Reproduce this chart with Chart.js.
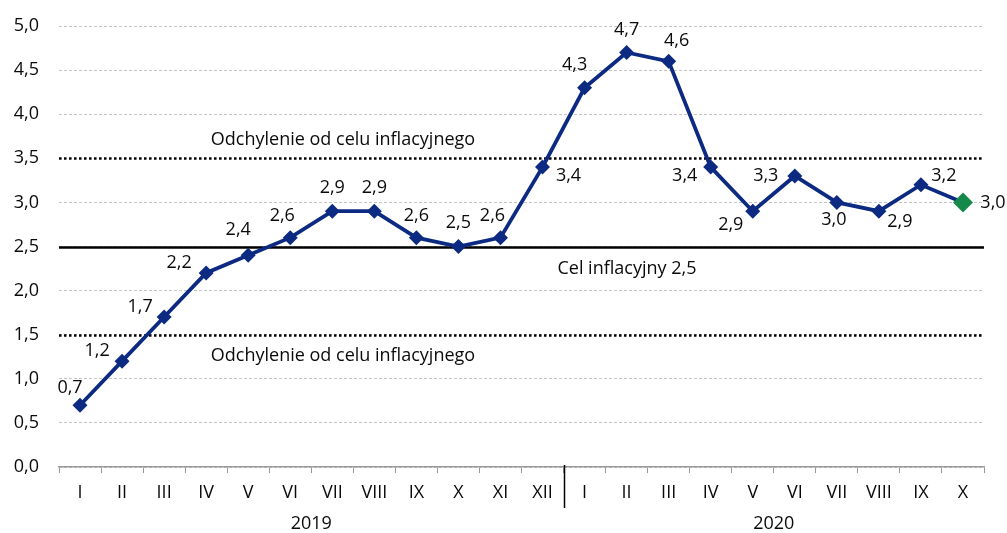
<!DOCTYPE html>
<html>
<head>
<meta charset="utf-8">
<script src="https://cdn.jsdelivr.net/npm/chart.js@4"></script>
<style>
  html, body { margin: 0; padding: 0; background: #fff; }
  #wrap { width: 1007px; height: 533px; }
</style>
</head>
<body>
<div id="wrap"><canvas id="chart"></canvas></div>
<script>
const months = ['I', 'II', 'III', 'IV', 'V', 'VI', 'VII', 'VIII', 'IX', 'X', 'XI', 'XII',
                'I', 'II', 'III', 'IV', 'V', 'VI', 'VII', 'VIII', 'IX', 'X'];
const inflation = [0.7, 1.2, 1.7, 2.2, 2.4, 2.6, 2.9, 2.9, 2.6, 2.5, 2.6, 3.4,
                   4.3, 4.7, 4.6, 3.4, 2.9, 3.3, 3.0, 2.9, 3.2, 3.0];
const years = ['2019', '2020'];
const yearFirstIdx = [0, 12];
const yearLastIdx = [11, 21];
const refValues = [3.5, 2.5, 1.5];
const refTexts = ['Odchylenie od celu inflacyjnego', 'Cel inflacyjny 2,5', 'Odchylenie od celu inflacyjnego'];

// label offsets from each point (style only)
const labelOffsets = [[-10, -17], [-25, -10], [-24, -10], [-27, -10], [-10, -25], [-8, -22],
  [0, -23], [0, -23], [0, -22], [0, -24], [-8, -22], [26, 9], [-10, -23], [0, -23], [8, -20],
  [-26, 9], [-22, 14], [-29, 0], [-3, 17], [21, 11], [23, -9], [30, 0]];

const FONT = 'Open Sans';
const NAVY = '#0c2a82';
const GREEN = '#16884a';
const fmt = v => v.toFixed(1).replace('.', ',');

Chart.defaults.font.family = FONT;
Chart.defaults.font.size = 18;
Chart.defaults.color = '#0a0a0a';

const refLinesPlugin = {
  id: 'refLines',
  beforeDatasetsDraw(chart) {
    const { ctx, chartArea, scales: { y } } = chart;
    ctx.save();
    refValues.forEach(v => {
      const py = Math.round(y.getPixelForValue(v)) + 0.5;
      ctx.beginPath();
      ctx.strokeStyle = '#000';
      ctx.lineWidth = 2.5;
      ctx.setLineDash(v === 2.5 ? [] : [2.5, 2.5]);
      ctx.moveTo(chartArea.left, py);
      ctx.lineTo(chartArea.right, py);
      ctx.stroke();
    });
    ctx.setLineDash([]);
    ctx.fillStyle = '#0a0a0a';
    ctx.font = '18px "Open Sans"';
    ctx.textAlign = 'center';
    ctx.textBaseline = 'middle';
    const w = chartArea.right - chartArea.left;
    ctx.fillText(refTexts[0], chartArea.left + w * 0.307, y.getPixelForValue(refValues[0]) - 18);
    ctx.fillText(refTexts[1], chartArea.left + w * 0.614, y.getPixelForValue(refValues[1]) + 22);
    ctx.fillText(refTexts[2], chartArea.left + w * 0.307, y.getPixelForValue(refValues[2]) + 21);
    ctx.restore();
  }
};

const labelsPlugin = {
  id: 'pointLabels',
  afterDatasetsDraw(chart) {
    const { ctx } = chart;
    const meta = chart.getDatasetMeta(0);
    ctx.save();
    ctx.fillStyle = '#0a0a0a';
    ctx.font = '18px "Open Sans"';
    ctx.textAlign = 'center';
    ctx.textBaseline = 'middle';
    meta.data.forEach((pt, i) => {
      const [dx, dy] = labelOffsets[i];
      ctx.fillText(fmt(inflation[i]), pt.x + dx, pt.y + dy);
    });
    ctx.restore();
  }
};

const yearsPlugin = {
  id: 'years',
  afterDraw(chart) {
    const { ctx, chartArea, scales: { x } } = chart;
    ctx.save();
    const sep = Math.round((x.getPixelForValue(11) + x.getPixelForValue(12)) / 2) + 0.5;
    ctx.strokeStyle = '#000';
    ctx.lineWidth = 1.5;
    ctx.beginPath();
    ctx.moveTo(sep, chartArea.bottom - 2);
    ctx.lineTo(sep, chartArea.bottom + 41);
    ctx.stroke();
    ctx.fillStyle = '#0a0a0a';
    ctx.font = '18px "Open Sans"';
    ctx.textAlign = 'center';
    ctx.textBaseline = 'middle';
    years.forEach((yr, i) => {
      const cx = (x.getPixelForValue(yearFirstIdx[i]) + x.getPixelForValue(yearLastIdx[i])) / 2;
      ctx.fillText(yr, cx, chartArea.bottom + 57);
    });
    ctx.restore();
  }
};

new Chart(document.getElementById('chart'), {
  type: 'line',
  data: {
    labels: months,
    datasets: [{
      data: inflation,
      borderColor: NAVY,
      borderWidth: 3.8,
      tension: 0,
      clip: false,
      pointStyle: 'rectRot',
      pointRadius: inflation.map((_, i) => i === inflation.length - 1 ? 10 : 7.5),
      pointBackgroundColor: inflation.map((_, i) => i === inflation.length - 1 ? GREEN : NAVY),
      pointBorderWidth: 0,
    }],
  },
  options: {
    responsive: true,
    maintainAspectRatio: false,
    animation: false,
    layout: { autoPadding: false, padding: { top: 26, right: 23, left: 0, bottom: 0 } },
    plugins: {
      legend: { display: false },
      tooltip: { enabled: false },
    },
    scales: {
      x: {
        offset: true,
        afterFit: s => { s.height = 66; },
        grid: { drawOnChartArea: false, drawTicks: true, tickLength: 6, color: '#9a9a9a', offset: true },
        border: { color: '#9a9a9a', width: 1.5 },
        ticks: { font: { family: FONT, size: 18 }, padding: 9, autoSkip: false, maxRotation: 0 },
      },
      y: {
        min: 0,
        max: 5,
        afterFit: s => { s.width = 59; },
        grid: { color: '#c4c4c4', lineWidth: 1, drawTicks: true, tickLength: 20, tickColor: 'rgba(0,0,0,0)' },
        border: { display: false, dash: [3, 2] },
        ticks: { stepSize: 0.5, padding: 0, font: { family: FONT, size: 18 }, callback: v => fmt(v) },
      },
    },
  },
  plugins: [refLinesPlugin, labelsPlugin, yearsPlugin],
});
</script>
</body>
</html>
